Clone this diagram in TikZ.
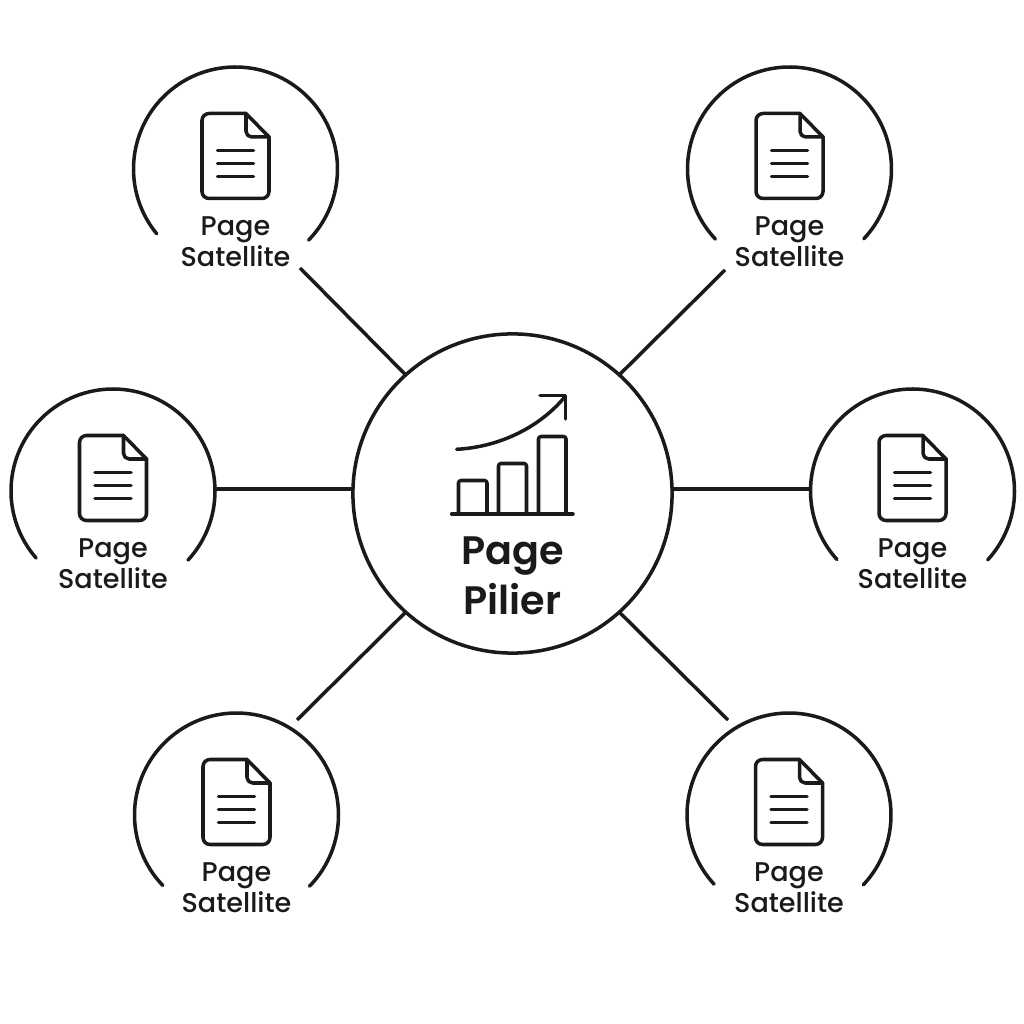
\documentclass[tikz,border=0pt]{standalone}
\usepackage{fontspec}
\setmainfont{Poppins}
\newfontfamily\satfont{Poppins Medium}
\newfontfamily\pilfont{Poppins SemiBold}
\definecolor{ink}{HTML}{1A1A1A}
\tikzset{
  x=0.01cm,y=0.01cm,
  ln/.style={draw=ink,line width=1pt,line cap=round,line join=round},
  conn/.style={draw=ink,line width=1pt,line cap=butt},
  satanchor/.style={circle,minimum size=2.04cm,inner sep=0pt,outer sep=0pt},
  pillar/.style={circle,draw=ink,line width=1pt,minimum size=3.19cm,inner sep=0pt,outer sep=0pt},
  sattext/.style={anchor=base,inner sep=0pt,text=ink,font=\satfont\fontsize{7.7}{9}\selectfont},
  piltext/.style={anchor=base,inner sep=0pt,text=ink,font=\pilfont\fontsize{11.3}{14}\selectfont},
  pics/satellite/.style 2 args={code={
    \draw[ln] (#1:102) arc[start angle=#1,end angle=#2,radius=102];
    \draw[ln,rounded corners=2pt] (10.5,55.5) -- (-33.5,55.5) -- (-33.5,-29.5) -- (33.5,-29.5) -- (33.5,32);
    \draw[ln] (10.5,55.5) -- (33.5,32);
    \draw[ln,rounded corners=1.6pt] (10.5,55.5) -- (10.5,32) -- (33.5,32);
    \draw[ln] (-18,18.5) -- (18,18.5);
    \draw[ln] (-18,5.5) -- (18,5.5);
    \draw[ln] (-18,-7.5) -- (18,-7.5);
    \node[sattext] (-a) at (0,-67) {Page};
    \node[sattext] (-b) at (0,-97.5) {Satellite};
  }}
}
\begin{document}
\begin{tikzpicture}
\useasboundingbox[fill=white] (0,0) rectangle (1024,1024);
% satellites
\node[satanchor] (s1) at (235.5,855) {};
\node[satanchor] (s2) at (789.5,855) {};
\node[satanchor] (s3) at (113,533) {};
\node[satanchor] (s4) at (912.5,533) {};
\node[satanchor] (s5) at (236.5,209) {};
\node[satanchor] (s6) at (789,209) {};
\pic (p1) at (s1) {satellite={-44.2}{219.4}};
\pic (p2) at (s2) {satellite={-43.2}{223.4}};
\pic (p3) at (s3) {satellite={-42.7}{221.1}};
\pic (p4) at (s4) {satellite={-42.5}{222.2}};
\pic (p5) at (s5) {satellite={-44.3}{223.7}};
\pic (p6) at (s6) {satellite={-43.3}{222.7}};
% pillar
\node[pillar] (c) at (512.5,530.5) {};
% free ends of diagonal connectors
\coordinate (e1) at (300,756);
\coordinate (e2) at (725,754);
\coordinate (e5) at (297,304);
\coordinate (e6) at (728,304);
\draw[conn] (c.132) -- (e1);
\draw[conn] (c.48) -- (e2);
\draw[conn] (c.228) -- (e5);
\draw[conn] (c.-48) -- (e6);
\coordinate (m3) at (353,535);
\coordinate (m4) at (672,535);
\draw[conn] (s3.east |- m3) -- (m3);
\draw[conn] (m4) -- (s4.west |- m4);
% chart icon
\draw[ln] (451.7,510) -- (573,510);
\draw[ln,rounded corners=0.7pt] (458.5,510) -- (458.5,543.5) -- (487,543.5) -- (487,510);
\draw[ln,rounded corners=0.7pt] (498.5,510) -- (498.5,560.5) -- (526.5,560.5) -- (526.5,510);
\draw[ln,rounded corners=0.7pt] (538.5,510) -- (538.5,587.5) -- (566,587.5) -- (566,510);
\draw[ln] (456.7,574.7) .. controls (500,577) and (540,597) .. (565,627.3);
\draw[ln] (540,628.3) -- (565.5,628.3) -- (565.5,605);
\node[piltext] (t1) at (512.5,459) {Page};
\node[piltext] (t2) at (512.5,409) {Pilier};
\end{tikzpicture}
\end{document}
